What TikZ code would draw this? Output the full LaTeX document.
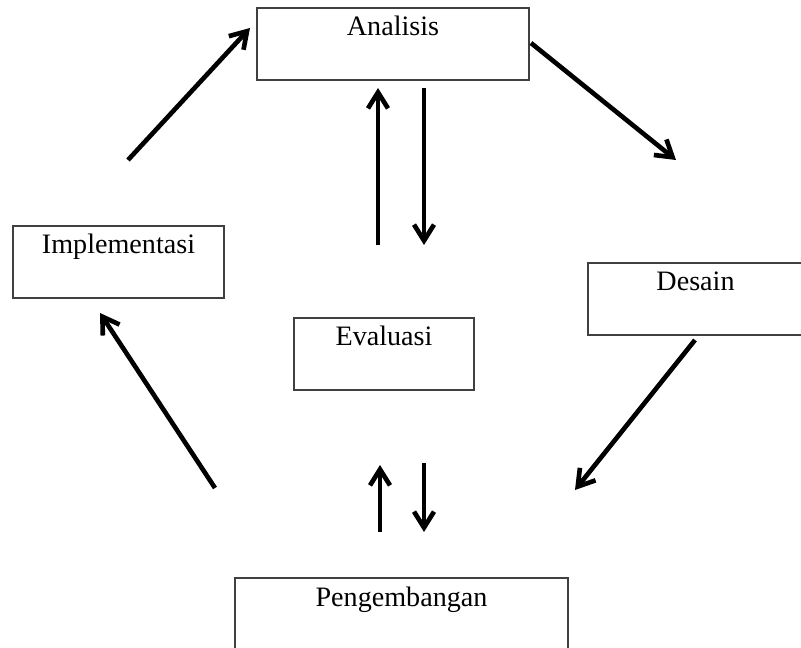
\documentclass[tikz,border=0pt]{standalone}
\usepackage{fontspec}
\setmainfont{Liberation Serif}
\usetikzlibrary{arrows.meta}

\tikzset{
  stage/.style={draw=black!75,line width=1pt,fill=white,inner xsep=0pt,inner ysep=0pt,
    text height=0.7cm,text depth=1.1cm,font=\fontsize{20}{24}\selectfont},
  flow/.style={line width=3.3pt,-{Straight Barb[length=4mm,width=5mm,line width=3.3pt]}}
}

\begin{document}
\begin{tikzpicture}[x=0.025cm,y=-0.025cm]
  \useasboundingbox (0,0) rectangle (801,648);
  \node[stage,minimum width=6.8cm] (analisis) at (393,44) {Analisis};
  \node[stage,minimum width=5.275cm] (implementasi) at (118.5,262) {Implementasi};
  \node[stage,minimum width=5.375cm] (desain) at (695.5,299) {Desain};
  \node[stage,minimum width=4.5cm] (evaluasi) at (384,354) {Evaluasi};
  \node[stage,minimum width=8.325cm] (pengembangan) at (401.5,614) {Pengembangan};

  % arrow ends
  \coordinate (i1) at (128,160);  \coordinate (a1) at (250,28);
  \coordinate (a2) at (531,43);   \coordinate (d1) at (676,160);
  \coordinate (d2) at (695,340);  \coordinate (p1) at (575,490);
  \coordinate (p2) at (215,488);  \coordinate (i2) at (100,313);
  \coordinate (e1) at (378,245);  \coordinate (a3) at (378,88);
  \coordinate (a4) at (424,88);   \coordinate (e2) at (424,245);
  \coordinate (p3) at (380,532);  \coordinate (e3) at (380,465);
  \coordinate (e4) at (424,463);  \coordinate (p4) at (424,532);

  \draw[flow] (i1) -- (a1);
  \draw[flow] (a2) -- (d1);
  \draw[flow] (d2) -- (p1);
  \draw[flow] (p2) -- (i2);
  \draw[flow] (e1) -- (a3);
  \draw[flow] (a4) -- (e2);
  \draw[flow] (p3) -- (e3);
  \draw[flow] (e4) -- (p4);
\end{tikzpicture}
\end{document}
